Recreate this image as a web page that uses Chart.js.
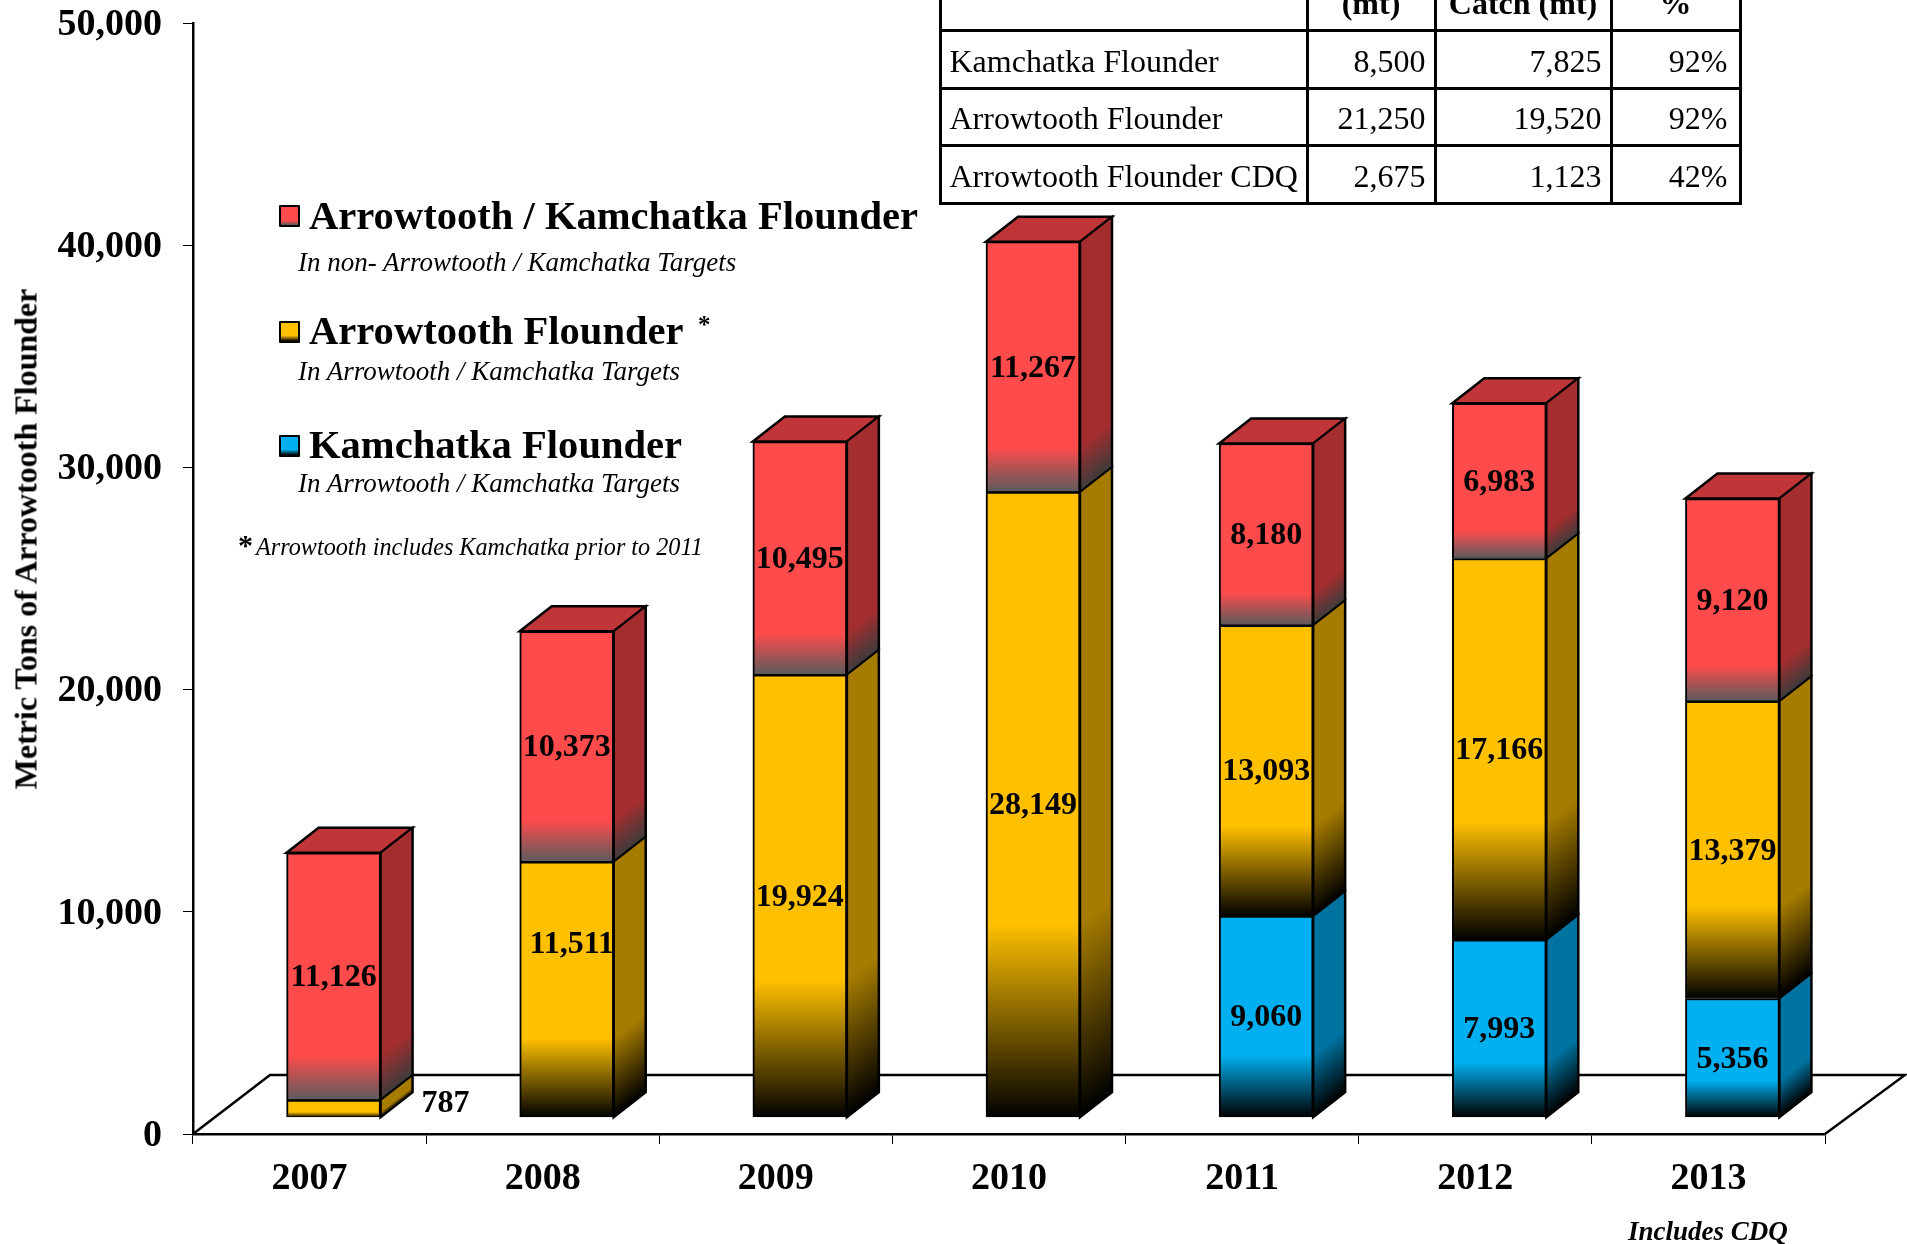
<!DOCTYPE html>
<html><head><meta charset="utf-8">
<script src="https://cdn.jsdelivr.net/npm/chart.js@4"></script>
<style>
html,body{margin:0;padding:0;background:#fff;overflow:hidden}
#wrap{position:relative;width:1907px;height:1244px;overflow:hidden;font-family:"Liberation Serif",serif;color:#000}
canvas{position:absolute;left:0;top:0}
.t{position:absolute;white-space:nowrap;line-height:40px;height:40px}
.main{font-weight:bold;font-size:40.6px}
.sub{font-style:italic;font-size:27px}
.sw{position:absolute;left:279px;width:17px;height:18px;border:2.5px solid #000;border-radius:1px}
table{position:absolute;left:938.5px;top:-25.5px;border-collapse:collapse;table-layout:fixed;font-size:32px;width:800px}
td{border:3px solid #000;height:51.6px;padding:3px 8px 0 10px;box-sizing:content-box;white-space:nowrap;text-align:right;line-height:32px}
td:first-child{text-align:left;padding-left:8px;padding-right:0}
td:last-child{padding-right:11px}
tr:first-child td{font-weight:bold;text-align:center;padding:0}
#ytitle{position:absolute;left:26px;top:539px;transform:translate(-50%,-50%) rotate(-90deg);font-weight:bold;font-size:32px;white-space:nowrap}
</style></head><body>
<div id="wrap">
<canvas id="c" width="1907" height="1244"></canvas>
<div id="ytitle">Metric Tons of Arrowtooth Flounder</div>
<table>
<colgroup><col style="width:367px"><col style="width:128px"><col style="width:176px"><col style="width:129px"></colgroup>
<tr><td></td><td>(mt)</td><td>Catch (mt)</td><td>%</td></tr>
<tr><td>Kamchatka Flounder</td><td>8,500</td><td>7,825</td><td>92%</td></tr>
<tr><td>Arrowtooth Flounder</td><td>21,250</td><td>19,520</td><td>92%</td></tr>
<tr><td>Arrowtooth Flounder CDQ</td><td>2,675</td><td>1,123</td><td>42%</td></tr>
</table>
<div class="sw" style="top:205px;background:linear-gradient(#ff4b4b 75%,#5a5a5a)"></div>
<div class="t main" style="left:309px;top:196px">Arrowtooth / Kamchatka Flounder</div>
<div class="t sub" style="left:298px;top:242px">In non- Arrowtooth / Kamchatka Targets</div>
<div class="sw" style="top:321px;background:linear-gradient(#ffc000 70%,#000)"></div>
<div class="t main" style="left:309px;top:311px">Arrowtooth Flounder</div>
<div class="t" style="left:698px;top:305px;font-weight:bold;font-size:25px">*</div>
<div class="t sub" style="left:298px;top:351px">In Arrowtooth / Kamchatka Targets</div>
<div class="sw" style="top:435px;background:linear-gradient(#00b0f0 70%,#000)"></div>
<div class="t main" style="left:309px;top:425px">Kamchatka Flounder</div>
<div class="t sub" style="left:298px;top:463px">In Arrowtooth / Kamchatka Targets</div>
<div class="t" style="left:238px;top:525px;font-weight:bold;font-size:30px">*</div>
<div class="t" style="left:256px;top:527px;font-style:italic;font-size:24.2px">Arrowtooth includes Kamchatka prior to 2011</div>
<div class="t" style="left:1628px;top:1211px;font-style:italic;font-weight:bold;font-size:27px">Includes CDQ</div>
</div>
<script>
const years = ['2007','2008','2009','2010','2011','2012','2013'];
const kamchatka = [null,null,null,null,9060,7993,5356];
const arrowtooth = [787,11511,19924,28149,13093,17166,13379];
const nonTarget = [11126,10373,10495,11267,8180,6983,9120];
const seriesNames = ['Kamchatka Flounder','Arrowtooth Flounder','Arrowtooth / Kamchatka Flounder'];
const seriesValues = [kamchatka, arrowtooth, nonTarget];

const FRONT = {dx:24, dy:-16.5};
const DEPTH = {dx:32, dy:-25};
const PLOT_TOP = 23;
const styles = [
  {front:'#00b0f0', end:'#000000', side:'#0073a0', sideEnd:'#000000', frac:0.31},
  {front:'#ffc000', end:'#000000', side:'#a67c00', sideEnd:'#000000', frac:0.31},
  {front:'#ff4b4b', end:'#5b5b5d', side:'#a32d2f', sideEnd:'#3c3c3c', top:'#c03638', frac:0.18}
];
function stackBase(ds,i){let s=0;for(let d=0;d<ds;d++)s+=seriesValues[d][i]||0;return s;}
function gradStops(g,c0,c1,f){g.addColorStop(0,c0);g.addColorStop(1-f,c0);g.addColorStop(1,c1);return g;}
function frontFill(ctx){
  const d=ctx.datasetIndex,i=ctx.dataIndex,st=styles[d];
  if(d===undefined||i===undefined) return '#888';
  const v=seriesValues[d][i]; if(v==null) return st.front;
  const y=ctx.chart.scales.y; if(!y) return st.front;
  const top=y.getPixelForValue(stackBase(d,i)+v), bot=y.getPixelForValue(stackBase(d,i));
  if(!isFinite(top)||!isFinite(bot)) return st.front;
  return gradStops(ctx.chart.ctx.createLinearGradient(0,top,0,bot),st.front,st.end,st.frac);
}
const labelShift = {'1:0':[112,-6],'1:1':[5,-46]};

const bar3d = {
  id:'bar3d',
  afterLayout(chart){
    const y=chart.scales.y,a=chart.chartArea;
    y.top=PLOT_TOP; y.height=y.bottom-PLOT_TOP; y.configure();
    a.top=PLOT_TOP; a.height=a.bottom-PLOT_TOP;
    if(!y._shifted){
      y._shifted=true;
      const orig=y._computeLabelItems;
      y._computeLabelItems=function(ca){
        const items=orig.call(this,ca);
        items.forEach(it=>{it.options.translation[1]+=2;});
        return items;
      };
    }
  },
  beforeDatasetsDraw(chart){
    const c=chart.ctx,{left,right,bottom}=chart.chartArea;
    c.save();
    c.strokeStyle='#000';c.lineWidth=2.5;c.lineJoin='miter';
    c.beginPath();c.moveTo(left,bottom);c.lineTo(left+77,bottom-59);c.lineTo(right+80,bottom-59);c.lineTo(right,bottom);c.stroke();
    c.translate(FRONT.dx,FRONT.dy);
    const ym=chart.scales.y;
    years.forEach((_,i)=>{
      let topDone=false;
      for(let d=2;d>=0;d--){
        const v=seriesValues[d][i]; if(v==null) continue;
        const el=chart.getDatasetMeta(d).data[i],st=styles[d];
        const xr=el.x+el.width/2,xl=el.x-el.width/2;
        const yt=ym.getPixelForValue(stackBase(d,i)+v),yb=ym.getPixelForValue(stackBase(d,i));
        if(!topDone){
          c.beginPath();c.moveTo(xl,yt);c.lineTo(xl+DEPTH.dx,yt+DEPTH.dy);c.lineTo(xr+DEPTH.dx,yt+DEPTH.dy);c.lineTo(xr,yt);c.closePath();
          c.fillStyle=styles[d].top||st.side;c.fill();c.stroke();topDone=true;
        }
        c.save();
        c.transform(1,DEPTH.dy/DEPTH.dx,0,1,xr,0);
        c.fillStyle=gradStops(c.createLinearGradient(0,yt,0,yb),st.side,st.sideEnd,st.frac);
        c.fillRect(0,yt,DEPTH.dx,yb-yt);
        c.strokeRect(0,yt,DEPTH.dx,yb-yt);
        c.restore();
      }
    });
  },
  afterDatasetsDraw(chart){
    const c=chart.ctx;
    c.fillStyle='#000';c.font='bold 32px "Liberation Serif"';c.textAlign='center';c.textBaseline='middle';
    seriesValues.forEach((vals,d)=>vals.forEach((v,i)=>{
      if(v==null) return;
      const el=chart.getDatasetMeta(d).data[i],s=labelShift[d+':'+i]||[0,0];
      c.fillText(v.toLocaleString('en-US'),el.x+s[0],(el.y+el.base)/2+s[1]+1.5);
    }));
    c.restore();
  }
};

new Chart(document.getElementById('c'),{
  type:'bar',
  data:{labels:years,datasets:seriesValues.map((vals,d)=>({
    label:seriesNames[d],data:vals,backgroundColor:frontFill,borderColor:'#000',
    borderWidth:{left:2,right:2,top:2,bottom:1},borderSkipped:false,barThickness:94,clip:false
  }))},
  options:{
    responsive:false,animation:false,
    layout:{padding:{top:23,right:82,left:0,bottom:0},autoPadding:false},
    plugins:{legend:{display:false},tooltip:{enabled:false},title:{display:false}},
    scales:{
      x:{stacked:true,offset:true,
        grid:{display:true,drawOnChartArea:false,drawTicks:true,tickLength:10,color:'#000',lineWidth:1,offset:true},
        border:{display:true,color:'#000',width:2.5},
        ticks:{color:'#000',font:{family:'"Liberation Serif"',weight:'bold',size:38},padding:12,maxRotation:0,autoSkip:false},
        afterFit(s){s.height=110;}},
      y:{stacked:true,min:0,max:50000,
        grid:{display:true,drawOnChartArea:false,drawTicks:true,tickLength:10,color:'#000',lineWidth:1},
        border:{display:true,color:'#000',width:2.5},
        ticks:{stepSize:10000,color:'#000',font:{family:'"Liberation Serif"',weight:'bold',size:38},padding:21,
          callback:v=>Number(v).toLocaleString('en-US')},
        afterFit(s){s.width=193;}}
    }
  },
  plugins:[bar3d]
});
</script>
</body></html>
